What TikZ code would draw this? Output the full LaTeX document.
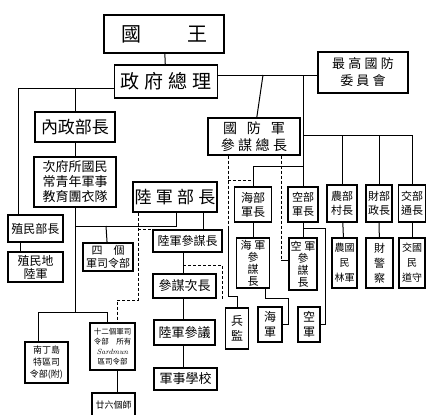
\documentclass[tikz,border=0pt]{standalone}
\usepackage{fontspec}
\newfontfamily\cjk{Noto Sans CJK TC}
\newcommand\fs[2]{\fontsize{#1}{#2}\selectfont}
\newcommand\gap{\hspace{0.25em}}
\begin{document}
\begin{tikzpicture}[x=1pt, y=-1pt,
    every node/.style={draw, line width=1.1pt, inner sep=0pt, align=center, font=\cjk},
    link/.style={line width=1pt},
    hint/.style={line width=1pt, dash pattern=on 3pt off 2pt}]
  \useasboundingbox (0,0) rectangle (426,415);
  % top of the chart
  \node[minimum width=120, minimum height=38, font=\cjk\fs{20}{20}] (king) at (164,34) {國\hspace{2.3em}王};
  \node[minimum width=103, minimum height=33, font=\cjk\fs{19}{19}] (premier) at (166,81.5) {政\gap 府\gap 總\gap 理};
  \node[minimum width=90, minimum height=41, font=\cjk\fs{13}{17}] (council) at (363,72.5) {最\gap 高\gap 國\gap 防\\委\gap 員\gap 會};
  \node[minimum width=92, minimum height=37, font=\cjk\fs{14}{17}] (cds) at (254,136.5) {國\hspace{0.7em}防\hspace{0.7em}軍\\參\gap 謀\gap 總\gap 長};
  % left side
  \node[minimum width=80, minimum height=30, font=\cjk\fs{17}{17}] (interior) at (75,127) {內政部長};
  \node[minimum width=82, minimum height=50, font=\cjk\fs{13}{15}] (youth) at (75,182) {次府所國民\\常青年軍事\\教育團衣隊};
  \node[minimum width=55, minimum height=27, font=\cjk\fs{12}{12}] (colmin) at (35.5,228.5) {殖民部長};
  \node[minimum width=55, minimum height=30, font=\cjk\fs{12}{13}] (colarmy) at (35.5,267) {殖民地\\陸軍};
  \node[minimum width=43, minimum height=41, font=\cjk\fs{9}{12}] (nanding) at (46.5,362.5) {南丁島\\特區司\\令部(附)};
  \node[minimum width=45, minimum height=47, font=\cjk\fs{7.5}{10}] (twelve) at (112.5,346.5) {十二個軍司\\令部\quad 所有\\{\normalfont\itshape Sardmun}\\區司令部};
  \node[minimum width=43, minimum height=25, font=\cjk\fs{9}{9}] (div26) at (113.5,405.5) {廿六個師};
  % army
  \node[minimum width=84, minimum height=30, font=\cjk\fs{17}{17}] (armymin) at (175,197) {陸\gap 軍\gap 部\gap 長};
  \node[minimum width=50, minimum height=28, font=\cjk\fs{11}{13}] (fourhq) at (108,257) {四\hspace{1em}個\\軍司令部};
  \node[minimum width=69, minimum height=22, font=\cjk\fs{12}{12}] (lcos) at (187.5,241) {陸軍參謀長};
  \node[minimum width=63, minimum height=24, font=\cjk\fs{13}{13}] (vice) at (184.5,286) {參謀次長};
  \node[minimum width=61, minimum height=25, font=\cjk\fs{13}{13}] (adviser) at (184.5,332.5) {陸軍參議};
  \node[minimum width=63, minimum height=22, font=\cjk\fs{13}{13}] (school) at (185.5,379) {軍事學校};
  \node[minimum width=23, minimum height=41, font=\cjk\fs{12}{15}] (inspect) at (237,328.5) {兵\\監};
  % navy, air force and the other ministries
  \node[minimum width=37, minimum height=35, font=\cjk\fs{12}{14}] (navymin) at (253,204.5) {海部\\軍長};
  \node[minimum width=30, minimum height=35, font=\cjk\fs{11}{14}] (airmin) at (303,204.5) {空部\\軍長};
  \node[minimum width=30, minimum height=37, font=\cjk\fs{11}{14}] (agrimin) at (342,203.5) {農部\\村長};
  \node[minimum width=26, minimum height=37, font=\cjk\fs{11}{14}] (finmin) at (379,203.5) {財部\\政長};
  \node[minimum width=27, minimum height=37, font=\cjk\fs{11}{14}] (transmin) at (412,203.5) {交部\\通長};
  \node[minimum width=33, minimum height=50, font=\cjk\fs{11}{12}] (navycos) at (253,263) {海\gap 軍\\參\\謀\\長};
  \node[minimum width=28, minimum height=52, font=\cjk\fs{11}{12}] (aircos) at (303,264) {空\gap 軍\\參\\謀\\長};
  \node[minimum width=25, minimum height=50, font=\cjk\fs{10}{15}] (agrisub) at (344.5,263) {農國\\民\\林軍};
  \node[minimum width=27, minimum height=50, font=\cjk\fs{11}{15}] (finsub) at (379.5,263) {財\\警\\察};
  \node[minimum width=26, minimum height=50, font=\cjk\fs{10}{15}] (transsub) at (412,263) {交國\\民\\道守};
  \node[minimum width=24, minimum height=35, font=\cjk\fs{12}{15}] (navy) at (270,324.5) {海\\軍};
  \node[minimum width=22, minimum height=35, font=\cjk\fs{12}{15}] (airforce) at (309,324.5) {空\\軍};
  % junctions
  \coordinate (jl) at (18,88);
  \coordinate (ji) at (75,88);
  \coordinate (jc) at (20,0);
  \coordinate (b1) at (38,312);
  \coordinate (b2) at (107,312);
  \coordinate (b3) at (117,0);
  \coordinate (a1) at (75,226);
  \coordinate (a2) at (176,226);
  \coordinate (a3) at (106,226);
  \coordinate (a4) at (203,0);
  \coordinate (ax) at (183,0);
  \coordinate (r0) at (263,75);
  \coordinate (r1) at (303,75);
  \coordinate (r2) at (303,135);
  \coordinate (r4) at (303,166);
  \coordinate (s1) at (325,228);
  \coordinate (n1) at (265,298);
  \coordinate (n2) at (288,298);
  \coordinate (d1) at (228,180);
  \coordinate (d2) at (281,260);
  \coordinate (d3) at (183,265);
  \coordinate (d4) at (222,265);
  \coordinate (d5) at (222,300);
  \coordinate (d6) at (228,228);
  \coordinate (d7) at (228,296);
  \coordinate (e2) at (138,300);
  \coordinate (e3) at (117,300);
  % solid lines
  \draw[link] (king) -- (premier);
  \draw[link] (premier.west |- jl) -- (jl) -- (jl |- colmin.north);
  \draw[link] (ji) -- (interior);
  \draw[link] (colmin.south -| jc) -- (colarmy.north -| jc);
  \draw[link] (interior) -- (youth);
  \draw[link] (youth.south) -- (youth.south |- b1);
  \draw[link] (nanding.north -| b1) -- (b1) -- (b2) -- (b2 |- twelve.north);
  \draw[link] (twelve.south -| b3) -- (div26.north -| b3);
  \draw[link] (a1) -- (a2) -- (a2 |- armymin.south);
  \draw[link] (a3) -- (fourhq);
  \draw[link] (armymin.south -| a4) -- (lcos.north -| a4);
  \draw[link] (lcos.south -| ax) -- (vice.north -| ax);
  \draw[link] (vice.south -| ax) -- (adviser.north -| ax);
  \draw[link] (adviser.south -| ax) -- (school.north -| ax);
  \draw[link] (premier.east |- r1) -- (council.west |- r1);
  \draw[link] (r0) -- (cds);
  \draw[link] (r1) -- (airmin);
  \draw[link] (r2) -- (transmin.north |- r2) -- (transmin);
  \draw[link] (agrimin.north |- r2) -- (agrimin);
  \draw[link] (finmin.north |- r2) -- (finmin);
  \draw[link] (r4) -- (navymin.north |- r4) -- (navymin);
  \draw[link] (navymin) -- (navycos);
  \draw[link] (airmin) -- (aircos);
  \draw[link] (agrimin) -- (agrisub);
  \draw[link] (finmin) -- (finsub);
  \draw[link] (transmin) -- (transsub);
  \draw[link] (airmin.south |- s1) -- (s1) -- (s1 |- airforce.east) -- (airforce.east);
  \draw[link] (navycos.south -| n1) -- (n1) -- (n2) -- (n2 |- navy.east) -- (navy.east);
  \draw[link] (d6) -- (d7) -- (d7 -| inspect.north) -- (inspect);
  \draw[link] (d2) -- (aircos.west |- d2);
  % dashed lines
  \draw[hint] (cds.south -| d1) -- (d1) -- (d6);
  \draw[hint] (d1) -- (navymin.north |- d1);
  \draw[hint] (cds.south -| d2) -- (d2);
  \draw[hint] (d3) -- (d4) -- (d5);
  \draw[hint] (armymin.south -| e2) -- (e2) -- (e3) -- (e3 |- twelve.north);
  \draw[hint] (e2 |- lcos.north west) -- (lcos.north west);
\end{tikzpicture}
\end{document}
